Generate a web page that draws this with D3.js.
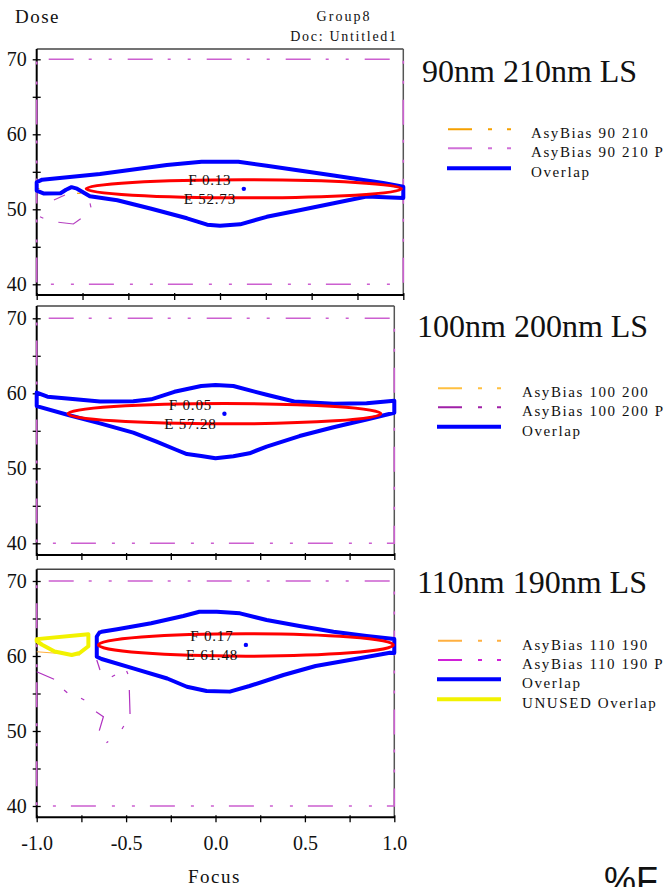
<!DOCTYPE html>
<html>
<head>
<meta charset="utf-8">
<script src="https://cdn.jsdelivr.net/npm/d3@7"></script>
<style>
  body { margin: 0; background: #fff; }
  svg { display: block; }
  text { font-family: "Liberation Serif", "Times New Roman", serif; fill: #111; }
</style>
</head>
<body>
<svg id="chart" width="667" height="887"></svg>
<script>
// ---- data -------------------------------------------------------------
const panelTitles = ["90nm 210nm LS", "100nm 200nm LS", "110nm 190nm LS"];

const legendLabels90210 = ["AsyBias 90 210", "AsyBias 90 210 P", "Overlap"];
const legendLabels100200 = ["AsyBias 100 200", "AsyBias 100 200 P", "Overlap"];
const legendLabels110190 = ["AsyBias 110 190", "AsyBias 110 190 P", "Overlap", "UNUSED Overlap"];

// process-window centre (focus, dose) and half ranges of the fitted ellipse
const windowFocus = [0.13, 0.05, 0.17];
const windowDose = [52.73, 57.28, 61.48];
const windowFocusHalf = [0.86, 0.875, 0.825];
const windowDoseHalf = [1.2, 1.35, 1.5];

// overlap contours [focus, dose]
const overlap90210 = [
  [-1.0, 53.6], [-0.97, 53.95], [-0.655, 54.7], [-0.29, 55.9], [-0.1, 56.35],
  [0.1, 56.35], [0.255, 55.8], [0.62, 54.5], [0.89, 53.5], [1.0, 53.0],
  [1.0, 51.5], [0.8, 51.7], [0.62, 50.8], [0.44, 49.9], [0.255, 49.0],
  [0.11, 48.0], [0.0, 47.8], [-0.07, 47.95], [-0.18, 48.8], [-0.38, 50.1],
  [-0.56, 51.2], [-0.71, 51.75], [-0.78, 52.75], [-0.81, 52.95], [-0.84, 52.6],
  [-0.87, 52.15], [-0.96, 52.1], [-1.0, 52.5]
];
const overlap100200 = [
  [-1.0, 60.1], [-0.94, 59.55], [-0.83, 59.3], [-0.646, 58.9], [-0.46, 58.95],
  [-0.36, 59.2], [-0.23, 60.2], [-0.08, 60.97], [0.0, 61.1], [0.1, 60.97],
  [0.286, 59.8], [0.44, 58.9], [0.66, 58.6], [0.845, 58.67], [1.0, 59.0],
  [1.0, 57.4], [0.845, 56.5], [0.66, 55.47], [0.47, 54.3], [0.286, 52.9],
  [0.19, 52.0], [0.1, 51.6], [0.0, 51.33], [-0.08, 51.64], [-0.16, 51.9],
  [-0.217, 52.44], [-0.33, 53.55], [-0.46, 54.75], [-0.646, 56.0], [-0.823, 57.1],
  [-1.0, 58.3]
];
const overlap110190 = [
  [-0.637, 63.24], [-0.55, 63.56], [-0.36, 64.36], [-0.18, 65.33], [-0.09, 65.9],
  [0.007, 65.91], [0.137, 65.69], [0.286, 64.8], [0.47, 64.0], [0.66, 63.24],
  [0.845, 62.67], [1.0, 62.27], [1.0, 60.4], [0.976, 60.44], [0.75, 59.47],
  [0.56, 58.67], [0.38, 57.47], [0.19, 56.0], [0.08, 55.25], [-0.05, 55.33],
  [-0.16, 55.9], [-0.27, 57.0], [-0.46, 58.36], [-0.637, 59.6], [-0.664, 59.9],
  [-0.664, 62.6], [-0.65, 63.1]
];
const unusedOverlap110190 = [
  [-1.0, 62.25], [-0.711, 62.9], [-0.711, 61.3], [-0.76, 60.4], [-0.804, 60.13],
  [-0.9, 60.6], [-0.97, 61.5], [-1.0, 62.0]
];

// visible pieces of the AsyBias contours
const asyBias90210Pieces = [
  [[-0.78, 52.13], [-0.76, 52.13]],
  [[-1.0, 52.75], [-0.985, 52.75]]
];
const asyBiasP90210Pieces = [
  [[-0.906, 51.24], [-0.846, 51.9]],
  [[-0.982, 49.0], [-0.964, 48.8]],
  [[-0.882, 48.27], [-0.80, 48.04], [-0.76, 48.75]],
  [[-0.709, 50.8], [-0.704, 50.27]]
];
const asyBias100200Pieces = [];
const asyBiasP100200Pieces = [];
const asyBias110190Pieces = [
  [[-1.0, 60.57], [-0.758, 60.13]],
  [[1.0, 60.9], [0.99, 61.3]]
];
const asyBiasP110190Pieces = [
  [[-1.0, 57.9], [-0.903, 56.9]],
  [[-0.847, 55.47], [-0.829, 55.1]],
  [[-0.752, 54.36], [-0.734, 54.13]],
  [[-0.668, 52.57], [-0.627, 51.9], [-0.65, 50.04]],
  [[-0.523, 50.27], [-0.513, 50.67]],
  [[-0.482, 55.47], [-0.478, 52.27]],
  [[-0.58, 57.24], [-0.562, 57.47]],
  [[-0.497, 58.0], [-0.49, 57.6]],
  [[-0.664, 59.47], [-0.646, 58.13]],
  [[-0.655, 63.37], [-0.636, 63.1]],
  [[-0.61, 48.44], [-0.6, 48.6]]
];

const focusBounds = [-1, 1];
const doseBounds = [40, 70];
const doseTicks = [40, 45, 50, 55, 60, 65, 70];
const doseTickLabels = [40, 50, 60, 70];
const focusTicks = [-1, -0.75, -0.5, -0.25, 0, 0.25, 0.5, 0.75, 1];
const focusTickLabels = [-1, -0.5, 0, 0.5, 1];

// ---- layout & styles --------------------------------------------------
const layout = [
  { left: 36.7, right: 403.3, top: 49, bottom: 295, y70: 59.3, y40: 284.3,
    titleX: 422, titleY: 81.7, legX: 448, legTextX: 531, legRows: [129.3, 148.3, 168.3] },
  { left: 36.7, right: 394.3, top: 306, bottom: 555, y70: 318.3, y40: 543.3,
    titleX: 417, titleY: 336.7, legX: 438, legTextX: 522, legRows: [388.3, 407.3, 426.7] },
  { left: 36.7, right: 394.3, top: 569.3, bottom: 817.3, y70: 581, y40: 806,
    titleX: 417, titleY: 593.3, legX: 438, legTextX: 522, legRows: [640.7, 660, 679.3, 699.3] }
];

const panelData = [
  { legend: legendLabels90210, overlap: overlap90210, unused: null,
    bias: asyBias90210Pieces, biasP: asyBiasP90210Pieces,
    biasColor: "#f5a000", biasPColor: "#d070d8", pieceColor: "#b540c0" },
  { legend: legendLabels100200, overlap: overlap100200, unused: null,
    bias: asyBias100200Pieces, biasP: asyBiasP100200Pieces,
    biasColor: "#ffc040", biasPColor: "#a020a8", pieceColor: "#b030b8" },
  { legend: legendLabels110190, overlap: overlap110190, unused: unusedOverlap110190,
    bias: asyBias110190Pieces, biasP: asyBiasP110190Pieces,
    biasColor: "#ffb040", biasPColor: "#d020d8", pieceColor: "#b030c0" }
];

const dashPattern = "24 16 4 15 4 100";
const frameDash = "25 15 3 17 3 16";
const frameMagenta = "#cc5fd0";

const svg = d3.select("#chart");
const fmtFocus = d => (d < 0 ? "-" : "") + Math.abs(d).toFixed(1);

layout.forEach((L, i) => {
  const P = panelData[i];
  const x = d3.scaleLinear().domain(focusBounds).range([L.left, L.right]);
  const y = d3.scaleLinear().domain(doseBounds).range([L.y40, L.y70]);
  const g = svg.append("g");

  // frame: light top/right, dark axes on left/bottom
  g.append("line").attr("x1", L.left).attr("x2", L.right).attr("y1", L.top).attr("y2", L.top)
    .attr("stroke", "#444").attr("stroke-width", 1.5);
  g.append("line").attr("x1", L.right).attr("x2", L.right).attr("y1", L.top).attr("y2", L.bottom)
    .attr("stroke", "#555").attr("stroke-width", 1.5);
  g.append("line").attr("x1", L.left).attr("x2", L.left).attr("y1", L.top).attr("y2", L.bottom + 1)
    .attr("stroke", "#000").attr("stroke-width", 2);
  g.append("line").attr("x1", L.left).attr("x2", L.right + 0.8).attr("y1", L.bottom).attr("y2", L.bottom)
    .attr("stroke", "#000").attr("stroke-width", 2);

  // dose axis
  const ya = g.append("g").attr("transform", `translate(${L.left},0)`)
    .call(d3.axisLeft(y).tickValues(doseTicks).tickSize(4).tickPadding(6)
      .tickFormat(d => doseTickLabels.includes(d) ? d : ""));
  ya.select(".domain").remove();
  ya.selectAll(".tick line").attr("x1", 4).attr("stroke", "#000").attr("stroke-width", 1.3);
  ya.selectAll(".tick text").attr("font-size", 20).attr("fill", "#111")
    .style("font-family", '"Liberation Serif", serif');

  // focus axis
  const showX = i === layout.length - 1;
  const xa = g.append("g").attr("transform", `translate(0,${L.bottom})`)
    .call(d3.axisBottom(x).tickValues(focusTicks).tickSize(5)
      .tickFormat(d => showX && focusTickLabels.includes(d) ? fmtFocus(d) : ""));
  xa.select(".domain").remove();
  xa.selectAll(".tick line").attr("y1", -2).attr("stroke", "#000").attr("stroke-width", 1.3);
  xa.selectAll(".tick text").attr("font-size", 20).attr("y", 32.7).attr("dy", 0)
    .attr("fill", "#111").style("font-family", '"Liberation Serif", serif');

  // AsyBias P boundary along the plotted window
  const box = [[focusBounds[0], doseBounds[1]], [focusBounds[1], doseBounds[1]],
               [focusBounds[1], doseBounds[0]], [focusBounds[0], doseBounds[0]]];
  g.append("path")
    .attr("d", d3.line().x(d => x(d[0])).y(d => y(d[1])).curve(d3.curveLinearClosed)(box))
    .attr("fill", "none").attr("stroke", frameMagenta).attr("stroke-width", 1.6)
    .attr("stroke-dasharray", frameDash).attr("stroke-dashoffset", -12);

  const open = d3.line().x(d => x(d[0])).y(d => y(d[1]));
  const closed = d3.line().x(d => x(d[0])).y(d => y(d[1])).curve(d3.curveLinearClosed);

  g.selectAll(".piece").data(P.biasP).join("path")
    .attr("d", open).attr("fill", "none").attr("stroke", P.pieceColor).attr("stroke-width", 1.2);
  g.selectAll(".opiece").data(P.bias).join("path")
    .attr("d", open).attr("fill", "none").attr("stroke", P.biasColor).attr("stroke-width", 1.2);

  // overlap contours
  g.append("path").attr("d", closed(P.overlap)).attr("fill", "none")
    .attr("stroke", "#0000ff").attr("stroke-width", 4).attr("stroke-linejoin", "round");
  if (P.unused) {
    g.append("path").attr("d", closed(P.unused)).attr("fill", "none")
      .attr("stroke", "#f2f200").attr("stroke-width", 4).attr("stroke-linejoin", "round");
  }

  // process window ellipse and centre
  const cf = windowFocus[i], cd = windowDose[i];
  g.append("ellipse")
    .attr("cx", x(cf)).attr("cy", y(cd))
    .attr("rx", x(cf + windowFocusHalf[i]) - x(cf))
    .attr("ry", y(cd) - y(cd + windowDoseHalf[i]))
    .attr("fill", "none").attr("stroke", "#ff0000").attr("stroke-width", 3);
  g.append("circle").attr("cx", x(cf)).attr("cy", y(cd)).attr("r", 2.2).attr("fill", "#0000ff");

  const lx = x(cf) - 34;
  g.append("text").attr("x", lx).attr("y", y(cd) - 3.5).attr("text-anchor", "middle")
    .attr("font-size", 15).attr("letter-spacing", 0.8).attr("fill", "#222")
    .text("F " + cf.toFixed(2));
  g.append("text").attr("x", lx).attr("y", y(cd) + 15.5).attr("text-anchor", "middle")
    .attr("font-size", 15).attr("letter-spacing", 0.8).attr("fill", "#222")
    .text("E " + cd.toFixed(2));

  // title
  g.append("text").attr("x", L.titleX).attr("y", L.titleY).attr("font-size", 32)
    .text(panelTitles[i]);

  // legend
  P.legend.forEach((label, k) => {
    const ry = L.legRows[k];
    let stroke, width, dash = null;
    if (k === 0) { stroke = P.biasColor; width = 2; dash = dashPattern; }
    else if (k === 1) { stroke = P.biasPColor; width = 2; dash = dashPattern; }
    else if (k === 2) { stroke = "#0000ff"; width = 4; }
    else { stroke = "#f2f200"; width = 4; }
    const ln = g.append("line").attr("x1", L.legX - 1).attr("x2", L.legX + 63)
      .attr("y1", ry).attr("y2", ry).attr("stroke", stroke).attr("stroke-width", width);
    if (dash) ln.attr("x1", L.legX).attr("stroke-dasharray", dash);
    g.append("text").attr("x", L.legTextX).attr("y", ry + 9).attr("font-size", 15)
      .attr("letter-spacing", 1.6).text(label);
  });
});

// header and axis captions
svg.append("text").attr("x", 15).attr("y", 22.7).attr("font-size", 19)
  .attr("letter-spacing", 1.5).text("Dose");
svg.append("text").attr("x", 344).attr("y", 20.7).attr("font-size", 14)
  .attr("letter-spacing", 2).attr("text-anchor", "middle").text("Group8");
svg.append("text").attr("x", 344).attr("y", 41).attr("font-size", 14)
  .attr("letter-spacing", 1.7).attr("text-anchor", "middle").text("Doc: Untitled1");
svg.append("text").attr("x", 214.5).attr("y", 883).attr("font-size", 19)
  .attr("letter-spacing", 1.5).attr("text-anchor", "middle").text("Focus");
// corner caption, partly outside the page as in the original layout
svg.append("text").attr("x", 604).attr("y", 893).attr("font-size", 36)
  .style("font-family", '"Liberation Sans", Arial, sans-serif').text("%F");
</script>
</body>
</html>
